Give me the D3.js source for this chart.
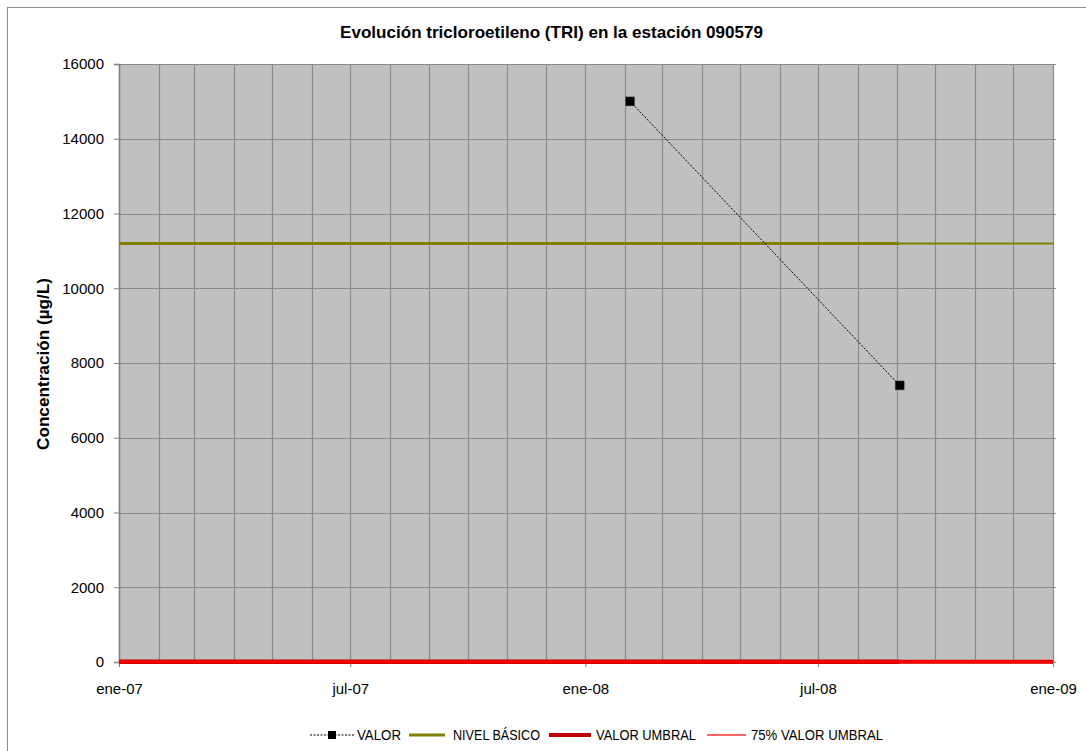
<!DOCTYPE html>
<html><head><meta charset="utf-8">
<script src="https://cdn.jsdelivr.net/npm/d3@7"></script>
<style>
html,body{margin:0;padding:0;background:#fff;}
svg{display:block;font-family:"Liberation Sans",Arial,sans-serif;}
</style></head>
<body>
<svg id="chart" width="1086" height="751"></svg>
<script>
// ---- data ----
const titleText = "Evolución tricloroetileno (TRI) en la estación 090579";
const yLabel = "Concentración (µg/L)";
const valorDates = ["2008-02-05", "2008-09-03"];
const valorValues = [15000, 7400];
const refDates = ["2007-01-01", "2008-09-03", "2009-01-01"];
const nivelBasico = [11200, 11200, 11200];
const valorUmbral = [10, 10, 10];
const umbral75 = [7.5, 7.5, 7.5];
const yTicks = [0, 2000, 4000, 6000, 8000, 10000, 12000, 14000, 16000];
const xTickDates = ["2007-01-01", "2007-07-01", "2008-01-01", "2008-07-01", "2009-01-01"];
const monthNames = ["ene","feb","mar","abr","may","jun","jul","ago","sep","oct","nov","dic"];
const legendNames = ["VALOR", "NIVEL BÁSICO", "VALOR UMBRAL", "75% VALOR UMBRAL"];

const parse = d3.utcParse("%Y-%m-%d");
const svg = d3.select("#chart");
const M = {left:119, right:1053, top:64, bottom:662};
const FONT = "Liberation Sans, Arial, sans-serif";

// chart border (only top & left visible)
svg.append("rect").attr("x",7.5).attr("y",7.5).attr("width",1200).attr("height",1000)
  .attr("fill","none").attr("stroke","#8c8c8c").attr("stroke-width",1);

const x = d3.scaleUtc().domain([parse("2007-01-01"), parse("2009-01-01")]).range([M.left, M.right]);
const y = d3.scaleLinear().domain([0,16000]).range([M.bottom, M.top]);

// plot background
svg.append("rect").attr("x",M.left).attr("y",M.top).attr("width",M.right-M.left).attr("height",M.bottom-M.top)
  .attr("fill","#c0c0c0");

// gridlines
const months = d3.utcMonth.range(parse("2007-01-01"), d3.utcDay.offset(parse("2009-01-01"),1));
svg.append("g").selectAll("line").data(months).join("line")
  .attr("x1",d=>Math.round(x(d))+0.5).attr("x2",d=>Math.round(x(d))+0.5)
  .attr("y1",M.top).attr("y2",M.bottom)
  .attr("stroke","#8a8a8a").attr("stroke-width",1.2);
svg.append("g").selectAll("line").data(yTicks).join("line")
  .attr("x1",M.left).attr("x2",M.right+3)
  .attr("y1",d=>Math.round(y(d))+0.5).attr("y2",d=>Math.round(y(d))+0.5)
  .attr("stroke","#8a8a8a").attr("stroke-width",1.2);

// axes
const yAxis = d3.axisLeft(y).tickValues(yTicks).tickSize(5).tickPadding(10).tickFormat(d3.format("d"));
const gy = svg.append("g").attr("transform",`translate(${M.left},0)`).call(yAxis);
gy.select(".domain").attr("stroke","#808080").attr("stroke-width",1.5);
gy.selectAll(".tick line").attr("stroke","#808080");
gy.selectAll("text").attr("font-size",15).attr("fill","#000").attr("font-family",FONT);

const fmtX = d => monthNames[d.getUTCMonth()] + "-" + String(d.getUTCFullYear()).slice(2);
const xAxis = d3.axisBottom(x).tickValues(xTickDates.map(parse)).tickSize(5).tickPadding(16).tickFormat(fmtX);
const gx = svg.append("g").attr("transform",`translate(0,${M.bottom})`).call(xAxis);
gx.select(".domain").attr("stroke","#808080").attr("stroke-width",1);
gx.selectAll(".tick line").attr("stroke","#808080");
gx.selectAll("text").attr("font-size",15).attr("fill","#000").attr("font-family",FONT);

// reference lines
function refSeries(vals, color, w1, w2){
  const pts = refDates.map((d,i)=>({d:parse(d), v:vals[i]}));
  const line = d3.line().x(p=>x(p.d)).y(p=>y(p.v));
  svg.append("path").attr("d", line(pts.slice(0,2))).attr("fill","none").attr("stroke",color).attr("stroke-width",w1);
  svg.append("path").attr("d", line(pts.slice(1))).attr("fill","none").attr("stroke",color).attr("stroke-width",w2);
}
refSeries(nivelBasico, "#808000", 3, 2);
refSeries(valorUmbral, "#c00000", 4.5, 4);
refSeries(umbral75, "#ff0000", 3, 3);

// VALOR series
const vpts = valorDates.map((d,i)=>({d:parse(d), v:valorValues[i]}));
svg.append("path").attr("d", d3.line().x(p=>x(p.d)).y(p=>y(p.v))(vpts))
  .attr("fill","none").attr("stroke","#000").attr("stroke-width",1).attr("stroke-dasharray","2,1.5");
svg.append("g").selectAll("rect").data(vpts).join("rect")
  .attr("x",p=>x(p.d)-4.5).attr("y",p=>y(p.v)-4.5).attr("width",9).attr("height",9)
  .attr("fill","#000").attr("stroke","#555").attr("stroke-width",0.5);

// title
svg.append("text").attr("x",340).attr("y",38)
  .attr("font-size",17).attr("font-weight","bold")
  .attr("textLength",423).attr("lengthAdjust","spacingAndGlyphs").text(titleText);

// y label
svg.append("text").attr("transform","translate(49,450) rotate(-90)")
  .attr("font-size",17).attr("font-weight","bold")
  .attr("textLength",172).attr("lengthAdjust","spacingAndGlyphs").text(yLabel);

// legend
const lg = svg.append("g").attr("transform","translate(0,735)");
const items = [
  {x:310, w:44, tx:357, tw:44, color:"#000", sw:1, dash:"2,1.5", marker:true},
  {x:409, w:36, tx:453, tw:87, color:"#808000", sw:3},
  {x:549, w:42, tx:596, tw:100, color:"#c00000", sw:4},
  {x:707, w:39, tx:751, tw:132, color:"#ff3030", sw:1.5}
];
items.forEach((it,i)=>{
  lg.append("line").attr("x1",it.x).attr("x2",it.x+it.w).attr("y1",0).attr("y2",0)
    .attr("stroke",it.color).attr("stroke-width",it.sw).attr("stroke-dasharray",it.dash||null);
  if(it.marker) lg.append("rect").attr("x",it.x+it.w/2-4).attr("y",-4).attr("width",8).attr("height",8).attr("fill","#000");
  lg.append("text").attr("x",it.tx).attr("y",5).attr("font-size",14)
    .attr("textLength",it.tw).attr("lengthAdjust","spacingAndGlyphs").text(legendNames[i]);
});
</script>
</body></html>
